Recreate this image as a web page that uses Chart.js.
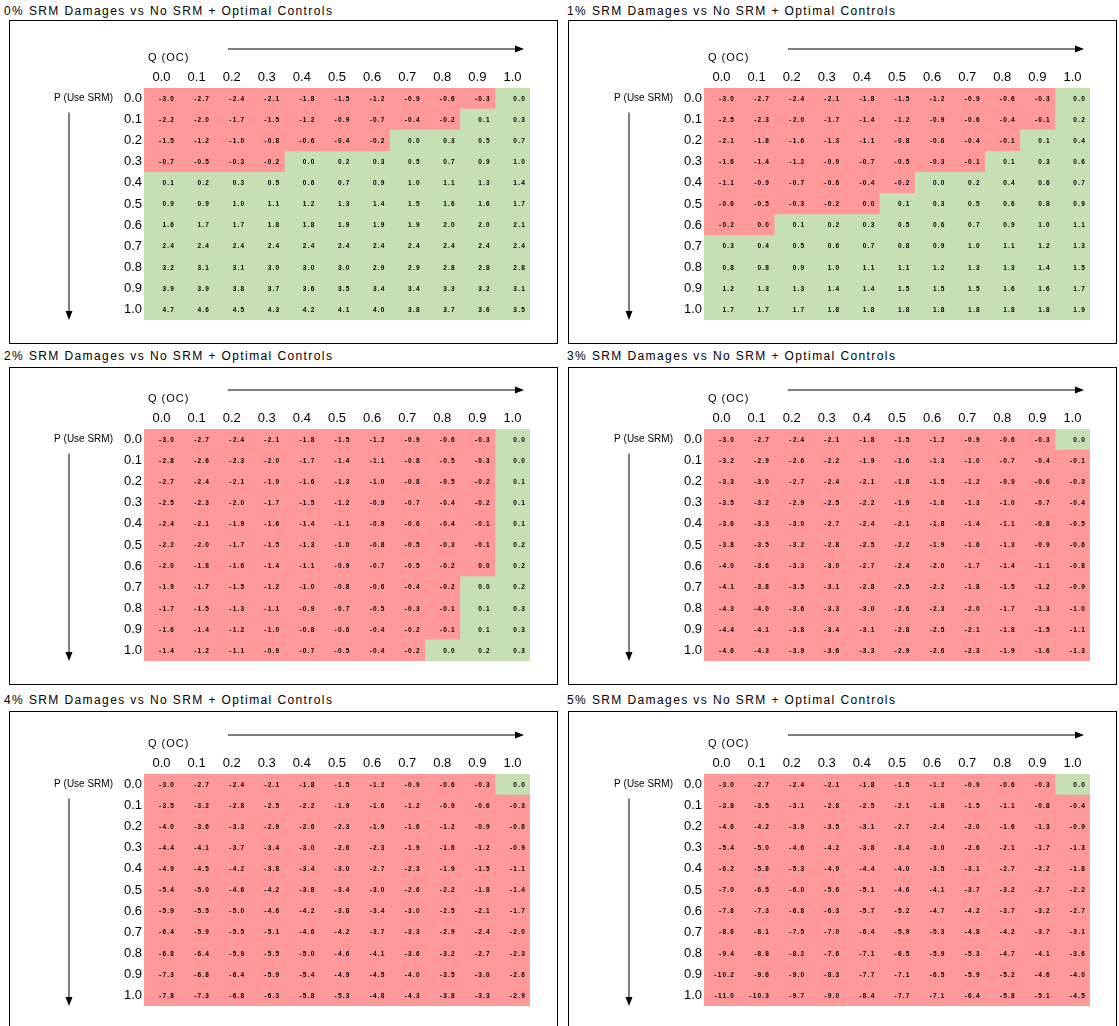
<!DOCTYPE html>
<html>
<head>
<meta charset="utf-8">
<script src="https://cdn.jsdelivr.net/npm/chart.js@4.4.0/dist/chart.umd.min.js"></script>
<style>
body { margin:0; background:#fff; width:1119px; height:1026px; overflow:hidden; position:relative; font-family:"Liberation Sans", Arial, sans-serif; }
.title { position:absolute; font-size:12px; color:#000; white-space:nowrap; letter-spacing:1.4px; }
.box { position:absolute; border:1px solid #000; box-sizing:border-box; overflow:hidden; }
.box canvas { position:absolute; left:0; top:0; }
</style>
</head>
<body>
<script>
// tick labels
var qLabels = ["0.0","0.1","0.2","0.3","0.4","0.5","0.6","0.7","0.8","0.9","1.0"];
var pLabels = ["0.0","0.1","0.2","0.3","0.4","0.5","0.6","0.7","0.8","0.9","1.0"];
var damageLabels = ["0%","1%","2%","3%","4%","5%"];

// rows = P (Use SRM), columns = Q (OC); -0.0 shows a small negative that rounds to 0.0
var srm0 = [
	[-3.0,-2.7,-2.4,-2.1,-1.8,-1.5,-1.2,-0.9,-0.6,-0.3,0.0],
	[-2.2,-2.0,-1.7,-1.5,-1.2,-0.9,-0.7,-0.4,-0.2,0.1,0.3],
	[-1.5,-1.2,-1.0,-0.8,-0.6,-0.4,-0.2,0.0,0.3,0.5,0.7],
	[-0.7,-0.5,-0.3,-0.2,0.0,0.2,0.3,0.5,0.7,0.9,1.0],
	[0.1,0.2,0.3,0.5,0.6,0.7,0.9,1.0,1.1,1.3,1.4],
	[0.9,0.9,1.0,1.1,1.2,1.3,1.4,1.5,1.6,1.6,1.7],
	[1.6,1.7,1.7,1.8,1.8,1.9,1.9,1.9,2.0,2.0,2.1],
	[2.4,2.4,2.4,2.4,2.4,2.4,2.4,2.4,2.4,2.4,2.4],
	[3.2,3.1,3.1,3.0,3.0,3.0,2.9,2.9,2.8,2.8,2.8],
	[3.9,3.9,3.8,3.7,3.6,3.5,3.4,3.4,3.3,3.2,3.1],
	[4.7,4.6,4.5,4.3,4.2,4.1,4.0,3.8,3.7,3.6,3.5]
];
var srm1 = [
	[-3.0,-2.7,-2.4,-2.1,-1.8,-1.5,-1.2,-0.9,-0.6,-0.3,0.0],
	[-2.5,-2.3,-2.0,-1.7,-1.4,-1.2,-0.9,-0.6,-0.4,-0.1,0.2],
	[-2.1,-1.8,-1.6,-1.3,-1.1,-0.8,-0.6,-0.4,-0.1,0.1,0.4],
	[-1.6,-1.4,-1.2,-0.9,-0.7,-0.5,-0.3,-0.1,0.1,0.3,0.6],
	[-1.1,-0.9,-0.7,-0.6,-0.4,-0.2,0.0,0.2,0.4,0.6,0.7],
	[-0.6,-0.5,-0.3,-0.2,-0.0,0.1,0.3,0.5,0.6,0.8,0.9],
	[-0.2,-0.0,0.1,0.2,0.3,0.5,0.6,0.7,0.9,1.0,1.1],
	[0.3,0.4,0.5,0.6,0.7,0.8,0.9,1.0,1.1,1.2,1.3],
	[0.8,0.8,0.9,1.0,1.1,1.1,1.2,1.3,1.3,1.4,1.5],
	[1.2,1.3,1.3,1.4,1.4,1.5,1.5,1.5,1.6,1.6,1.7],
	[1.7,1.7,1.7,1.8,1.8,1.8,1.8,1.8,1.8,1.8,1.9]
];
var srm2 = [
	[-3.0,-2.7,-2.4,-2.1,-1.8,-1.5,-1.2,-0.9,-0.6,-0.3,0.0],
	[-2.8,-2.6,-2.3,-2.0,-1.7,-1.4,-1.1,-0.8,-0.5,-0.3,0.0],
	[-2.7,-2.4,-2.1,-1.9,-1.6,-1.3,-1.0,-0.8,-0.5,-0.2,0.1],
	[-2.5,-2.3,-2.0,-1.7,-1.5,-1.2,-0.9,-0.7,-0.4,-0.2,0.1],
	[-2.4,-2.1,-1.9,-1.6,-1.4,-1.1,-0.9,-0.6,-0.4,-0.1,0.1],
	[-2.2,-2.0,-1.7,-1.5,-1.3,-1.0,-0.8,-0.5,-0.3,-0.1,0.2],
	[-2.0,-1.8,-1.6,-1.4,-1.1,-0.9,-0.7,-0.5,-0.2,-0.0,0.2],
	[-1.9,-1.7,-1.5,-1.2,-1.0,-0.8,-0.6,-0.4,-0.2,0.0,0.2],
	[-1.7,-1.5,-1.3,-1.1,-0.9,-0.7,-0.5,-0.3,-0.1,0.1,0.3],
	[-1.6,-1.4,-1.2,-1.0,-0.8,-0.6,-0.4,-0.2,-0.1,0.1,0.3],
	[-1.4,-1.2,-1.1,-0.9,-0.7,-0.5,-0.4,-0.2,0.0,0.2,0.3]
];
var srm3 = [
	[-3.0,-2.7,-2.4,-2.1,-1.8,-1.5,-1.2,-0.9,-0.6,-0.3,0.0],
	[-3.2,-2.9,-2.6,-2.2,-1.9,-1.6,-1.3,-1.0,-0.7,-0.4,-0.1],
	[-3.3,-3.0,-2.7,-2.4,-2.1,-1.8,-1.5,-1.2,-0.9,-0.6,-0.3],
	[-3.5,-3.2,-2.9,-2.5,-2.2,-1.9,-1.6,-1.3,-1.0,-0.7,-0.4],
	[-3.6,-3.3,-3.0,-2.7,-2.4,-2.1,-1.8,-1.4,-1.1,-0.8,-0.5],
	[-3.8,-3.5,-3.2,-2.8,-2.5,-2.2,-1.9,-1.6,-1.3,-0.9,-0.6],
	[-4.0,-3.6,-3.3,-3.0,-2.7,-2.4,-2.0,-1.7,-1.4,-1.1,-0.8],
	[-4.1,-3.8,-3.5,-3.1,-2.8,-2.5,-2.2,-1.8,-1.5,-1.2,-0.9],
	[-4.3,-4.0,-3.6,-3.3,-3.0,-2.6,-2.3,-2.0,-1.7,-1.3,-1.0],
	[-4.4,-4.1,-3.8,-3.4,-3.1,-2.8,-2.5,-2.1,-1.8,-1.5,-1.1],
	[-4.6,-4.3,-3.9,-3.6,-3.3,-2.9,-2.6,-2.3,-1.9,-1.6,-1.3]
];
var srm4 = [
	[-3.0,-2.7,-2.4,-2.1,-1.8,-1.5,-1.2,-0.9,-0.6,-0.3,0.0],
	[-3.5,-3.2,-2.8,-2.5,-2.2,-1.9,-1.6,-1.2,-0.9,-0.6,-0.3],
	[-4.0,-3.6,-3.3,-2.9,-2.6,-2.3,-1.9,-1.6,-1.2,-0.9,-0.6],
	[-4.4,-4.1,-3.7,-3.4,-3.0,-2.6,-2.3,-1.9,-1.6,-1.2,-0.9],
	[-4.9,-4.5,-4.2,-3.8,-3.4,-3.0,-2.7,-2.3,-1.9,-1.5,-1.1],
	[-5.4,-5.0,-4.6,-4.2,-3.8,-3.4,-3.0,-2.6,-2.2,-1.8,-1.4],
	[-5.9,-5.5,-5.0,-4.6,-4.2,-3.8,-3.4,-3.0,-2.5,-2.1,-1.7],
	[-6.4,-5.9,-5.5,-5.1,-4.6,-4.2,-3.7,-3.3,-2.9,-2.4,-2.0],
	[-6.8,-6.4,-5.9,-5.5,-5.0,-4.6,-4.1,-3.6,-3.2,-2.7,-2.3],
	[-7.3,-6.8,-6.4,-5.9,-5.4,-4.9,-4.5,-4.0,-3.5,-3.0,-2.6],
	[-7.8,-7.3,-6.8,-6.3,-5.8,-5.3,-4.8,-4.3,-3.8,-3.3,-2.9]
];
var srm5 = [
	[-3.0,-2.7,-2.4,-2.1,-1.8,-1.5,-1.2,-0.9,-0.6,-0.3,0.0],
	[-3.8,-3.5,-3.1,-2.8,-2.5,-2.1,-1.8,-1.5,-1.1,-0.8,-0.4],
	[-4.6,-4.2,-3.9,-3.5,-3.1,-2.7,-2.4,-2.0,-1.6,-1.3,-0.9],
	[-5.4,-5.0,-4.6,-4.2,-3.8,-3.4,-3.0,-2.6,-2.1,-1.7,-1.3],
	[-6.2,-5.8,-5.3,-4.9,-4.4,-4.0,-3.5,-3.1,-2.7,-2.2,-1.8],
	[-7.0,-6.5,-6.0,-5.6,-5.1,-4.6,-4.1,-3.7,-3.2,-2.7,-2.2],
	[-7.8,-7.3,-6.8,-6.3,-5.7,-5.2,-4.7,-4.2,-3.7,-3.2,-2.7],
	[-8.6,-8.1,-7.5,-7.0,-6.4,-5.9,-5.3,-4.8,-4.2,-3.7,-3.1],
	[-9.4,-8.8,-8.2,-7.6,-7.1,-6.5,-5.9,-5.3,-4.7,-4.1,-3.6],
	[-10.2,-9.6,-9.0,-8.3,-7.7,-7.1,-6.5,-5.9,-5.2,-4.6,-4.0],
	[-11.0,-10.3,-9.7,-9.0,-8.4,-7.7,-7.1,-6.4,-5.8,-5.1,-4.5]
];
var panels = [srm0, srm1, srm2, srm3, srm4, srm5];

var RED = "#ff9999";
var GREEN = "#c6e0b4";

// page layout (pixels)
var boxLefts = [9, 568];
var boxWidth = 549;
var boxTops = [20, 367, 711];
var boxHeights = [324, 318, 320];
var titleTops = [4, 349, 693];
var gridLefts = [144, 704];
var gridTops = [88, 429, 774];
var gridW = 386, gridH = 232;
var yAxisW = 34, xAxisH = 20;

function isNegative(v) {
	return v < 0 || Object.is(v, -0);
}

function cellColor(v) {
	return isNegative(v) ? RED : GREEN;
}

function arrow(ctx, x1, y1, x2, y2) {
	ctx.save();
	ctx.strokeStyle = "#000";
	ctx.fillStyle = "#000";
	ctx.lineWidth = 1;
	ctx.beginPath();
	ctx.moveTo(x1, y1);
	ctx.lineTo(x2, y2);
	ctx.stroke();
	var a = Math.atan2(y2 - y1, x2 - x1);
	ctx.beginPath();
	ctx.moveTo(x2 + Math.cos(a) * 2, y2 + Math.sin(a) * 2);
	ctx.lineTo(x2 - Math.cos(a) * 7 - Math.sin(a) * 3.5, y2 - Math.sin(a) * 7 + Math.cos(a) * 3.5);
	ctx.lineTo(x2 - Math.cos(a) * 7 + Math.sin(a) * 3.5, y2 - Math.sin(a) * 7 - Math.cos(a) * 3.5);
	ctx.closePath();
	ctx.fill();
	ctx.restore();
}

var cellLabels = {
	id: "cellLabels",
	afterDatasetsDraw: function(chart) {
		var values = chart.options.plugins.cellLabels.values;
		var ctx = chart.ctx;
		ctx.save();
		ctx.font = "bold 6.5px 'Liberation Sans', Arial, sans-serif";
		ctx.letterSpacing = "1.2px";
		ctx.fillStyle = "#000";
		ctx.textAlign = "right";
		ctx.textBaseline = "middle";
		chart.data.datasets.forEach(function(ds, j) {
			var meta = chart.getDatasetMeta(j);
			meta.data.forEach(function(el, i) {
				var p = el.getProps(["x", "y", "base"], true);
				var right = Math.max(p.x, p.base);
				ctx.fillText(values[i][j].toFixed(1), right - 4, p.y + 0.5);
			});
		});
		ctx.restore();
	},
	afterDraw: function(chart) {
		var ctx = chart.ctx;
		var area = chart.chartArea;
		var yScale = chart.scales.y;
		var row0 = yScale.getPixelForValue(0);
		ctx.save();
		ctx.fillStyle = "#000";
		ctx.textBaseline = "middle";
		ctx.textAlign = "left";
		ctx.font = "11px 'Liberation Sans', Arial, sans-serif";
		ctx.letterSpacing = "1px";
		ctx.fillText("Q (OC)", area.left + 4, area.top - 30);
		ctx.font = "10px 'Liberation Sans', Arial, sans-serif";
		ctx.letterSpacing = "0px";
		ctx.textAlign = "right";
		ctx.fillText("P (Use SRM)", area.left - 31, row0);
		ctx.restore();
		arrow(ctx, area.left + 84, area.top - 39, area.right - 8, area.top - 39);
		arrow(ctx, area.left - 75, row0 + 14, area.left - 75, area.bottom - 2);
	}
};

function makePanel(idx) {
	var col = idx % 2, row = Math.floor(idx / 2);
	var values = panels[idx];

	var title = document.createElement("div");
	title.className = "title";
	title.style.left = (col === 0 ? 4 : 567) + "px";
	title.style.top = titleTops[row] + "px";
	title.textContent = damageLabels[idx] + " SRM Damages vs No SRM + Optimal Controls";
	document.body.appendChild(title);

	var box = document.createElement("div");
	box.className = "box";
	box.style.left = boxLefts[col] + "px";
	box.style.top = boxTops[row] + "px";
	box.style.width = boxWidth + "px";
	box.style.height = boxHeights[row] + "px";
	document.body.appendChild(box);

	var cw = boxWidth - 2, ch = boxHeights[row] - 2;
	var canvas = document.createElement("canvas");
	canvas.width = cw;
	canvas.height = ch;
	canvas.style.width = cw + "px";
	canvas.style.height = ch + "px";
	box.appendChild(canvas);

	var gl = gridLefts[col] - boxLefts[col] - 1;
	var gt = gridTops[row] - boxTops[row] - 1;

	var datasets = qLabels.map(function(q, j) {
		return {
			label: q,
			data: pLabels.map(function() { return [j, j + 1]; }),
			backgroundColor: values.map(function(r) { return cellColor(r[j]); }),
			borderWidth: 0,
			barPercentage: 1,
			categoryPercentage: 1,
			grouped: false
		};
	});

	new Chart(canvas, {
		type: "bar",
		data: { labels: pLabels, datasets: datasets },
		options: {
			indexAxis: "y",
			responsive: false,
			animation: false,
			events: [],
			layout: {
				padding: { left: gl - yAxisW, top: gt - xAxisH, right: cw - gl - gridW, bottom: ch - gt - gridH }
			},
			plugins: {
				legend: { display: false },
				tooltip: { enabled: false },
				cellLabels: { values: values }
			},
			scales: {
				x: {
					type: "linear",
					position: "top",
					min: 0,
					max: 11,
					grid: { display: false, drawTicks: false },
					border: { display: false },
					afterBuildTicks: function(axis) {
						axis.ticks = qLabels.map(function(q, j) { return { value: j + 0.5 }; });
					},
					afterFit: function(axis) { axis.height = xAxisH; },
					ticks: {
						autoSkip: false,
						maxRotation: 0,
						padding: 3,
						color: "#000",
						font: { size: 13, family: "'Liberation Sans', Arial, sans-serif" },
						callback: function(v, i) { return qLabels[i]; }
					}
				},
				y: {
					type: "category",
					offset: true,
					grid: { display: false, drawTicks: false },
					border: { display: false },
					afterFit: function(axis) { axis.width = yAxisW; },
					ticks: {
						autoSkip: false,
						padding: 2,
						color: "#000",
						font: { size: 13, family: "'Liberation Sans', Arial, sans-serif" }
					}
				}
			}
		},
		plugins: [cellLabels]
	});
}

for (var k = 0; k < panels.length; k++) {
	makePanel(k);
}
</script>
</body>
</html>
